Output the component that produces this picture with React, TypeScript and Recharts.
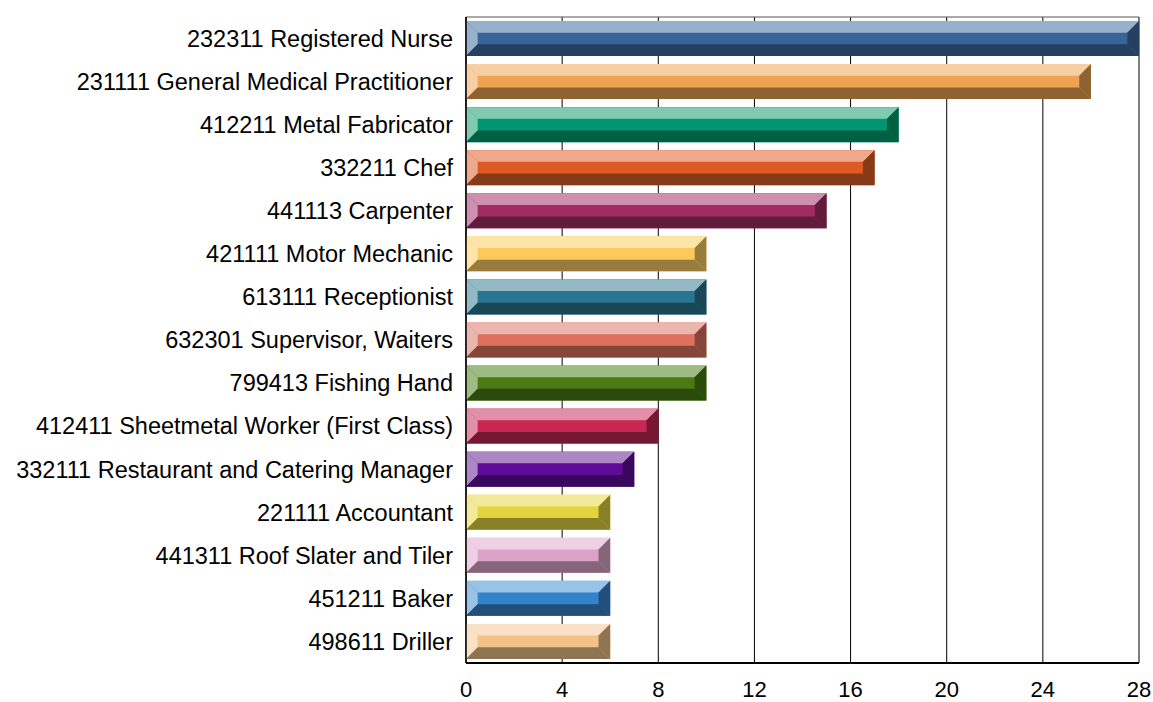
import { BarChart, Bar, XAxis, YAxis, CartesianGrid } from 'recharts';

const occupations = [
  '232311 Registered Nurse',
  '231111 General Medical Practitioner',
  '412211 Metal Fabricator',
  '332211 Chef',
  '441113 Carpenter',
  '421111 Motor Mechanic',
  '613111 Receptionist',
  '632301 Supervisor, Waiters',
  '799413 Fishing Hand',
  '412411 Sheetmetal Worker (First Class)',
  '332111 Restaurant and Catering Manager',
  '221111 Accountant',
  '441311 Roof Slater and Tiler',
  '451211 Baker',
  '498611 Driller',
];

const counts = [28, 26, 18, 17, 15, 10, 10, 10, 10, 8, 7, 6, 6, 6, 6];

const xTicks = [0, 4, 8, 12, 16, 20, 24, 28];

const lightColors = [
  '#97b1cd', '#f7cfa5', '#80cbb0', '#eda98e', '#cf8fae', '#fde4a9', '#93b9c7', '#ebb6ae',
  '#9fbb85', '#e190a8', '#ad86c6', '#f2e999', '#efcfe3', '#98c2e6', '#f8e1c4',
];
const mainColors = [
  '#386598', '#efa352', '#009670', '#dd5a22', '#a02c62', '#fdc95a', '#297590', '#de7060',
  '#4a7a14', '#c82653', '#5f0c98', '#e3d33c', '#dba3c8', '#3383cc', '#f2c289',
];
const darkColors = [
  '#243f60', '#8f6331', '#006043', '#863a17', '#611c3c', '#977c3c', '#1a4757', '#864539',
  '#2c4a0c', '#761733', '#39075b', '#888026', '#84657a', '#214e7b', '#8f7451',
];

const data = occupations.map((name, i) => ({ name, value: counts[i], i }));

const BevelBar = (props: any) => {
  const { x, y, width, height, payload } = props;
  if (!width || width <= 0) return null;
  const i = payload.i;
  const b = Math.min(height / 3, width / 2);
  const r = x + width;
  const btm = y + height;
  return (
    <g>
      <rect x={x} y={y} width={width} height={height} fill={mainColors[i]} />
      <polygon points={`${x},${y} ${r},${y} ${r - b},${y + b} ${x + b},${y + b}`} fill={lightColors[i]} />
      <polygon points={`${x},${y} ${x + b},${y + b} ${x + b},${btm - b} ${x},${btm}`} fill={lightColors[i]} />
      <polygon points={`${x},${btm} ${x + b},${btm - b} ${r - b},${btm - b} ${r},${btm}`} fill={darkColors[i]} />
      <polygon points={`${r},${y} ${r},${btm} ${r - b},${btm - b} ${r - b},${y + b}`} fill={darkColors[i]} />
    </g>
  );
};

export default function App() {
  return (
    <div style={{ position: 'absolute', left: 0, top: 0, fontFamily: '"Liberation Sans", Arial, sans-serif' }}>
      <BarChart
        width={1153}
        height={702}
        data={data}
        layout="vertical"
        barSize={35}
        margin={{ top: 17, right: 14, bottom: 9, left: 0 }}
      >
        <CartesianGrid stroke="#000" horizontal={false} vertical />
        <CartesianGrid stroke="#555" vertical={false} horizontalPoints={[17]} />
        <XAxis
          type="number"
          domain={[0, 28]}
          ticks={xTicks}
          tickLine={false}
          axisLine={{ stroke: '#000', strokeWidth: 2 }}
          tick={{ fill: '#000', fontSize: 22 }}
          tickMargin={12}
          height={30}
        />
        <YAxis
          type="category"
          dataKey="name"
          width={466}
          tickLine={false}
          tickSize={0}
          tickMargin={13}
          axisLine={{ stroke: '#000', strokeWidth: 1.5 }}
          tick={{ fill: '#000', fontSize: 23.5 }}
          interval={0}
        />
        <Bar dataKey="value" shape={<BevelBar />} isAnimationActive={false} />
      </BarChart>
    </div>
  );
}
